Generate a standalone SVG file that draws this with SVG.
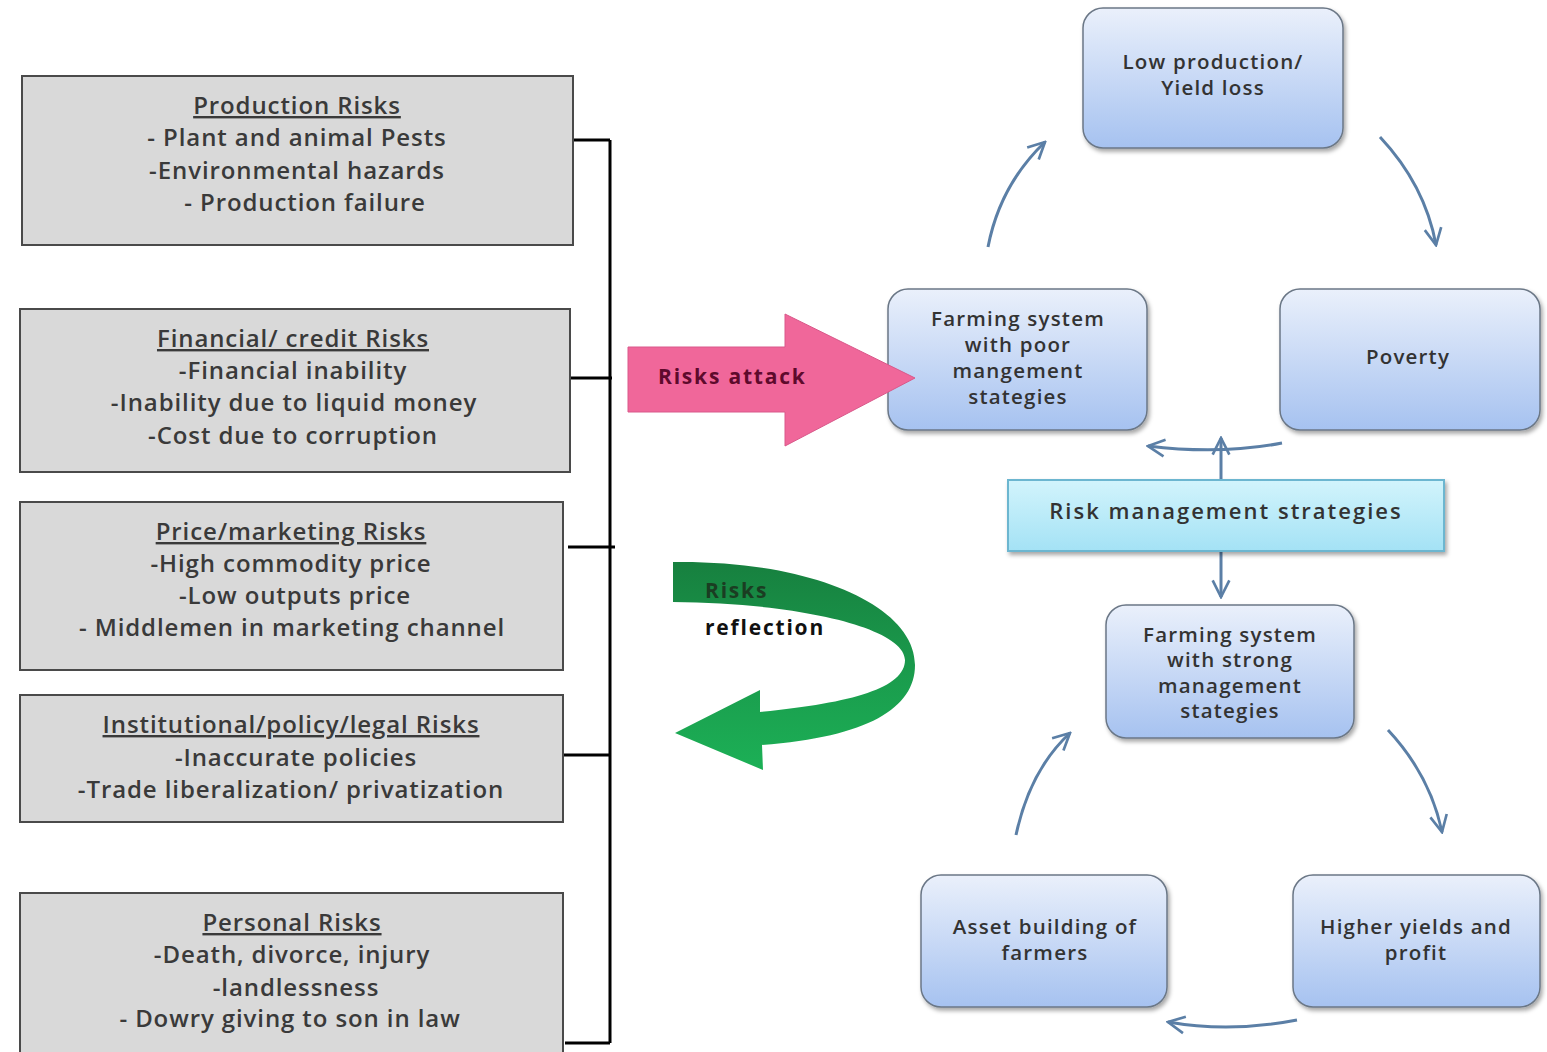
<svg xmlns="http://www.w3.org/2000/svg" width="1547" height="1052" viewBox="0 0 1547 1052">
<defs>
<style>
.rbox{fill:#d9d9d9;stroke:#4a4a4a;stroke-width:2}
.lt{font-family:"Open Sans","Liberation Sans",sans-serif;font-size:24px;font-weight:600;letter-spacing:0.9px;fill:#3a3a3a;text-anchor:middle}
.ttl{text-decoration:underline}
.node{fill:url(#ng);stroke:#6b7786;stroke-width:1.5;filter:url(#sh)}
.nt{font-family:"Open Sans","Liberation Sans",sans-serif;font-size:20.5px;font-weight:600;letter-spacing:1.2px;fill:#333;text-anchor:middle}
.conn{fill:none;stroke:#000;stroke-width:3}
.ca{fill:none;stroke:#5b7fa6;stroke-width:3;marker-end:url(#ah)}
.bt{font-family:"Open Sans","Liberation Sans",sans-serif;font-size:21px;font-weight:bold;letter-spacing:1.8px}
</style>
<linearGradient id="ng" x1="0" y1="0" x2="0" y2="1">
<stop offset="0" stop-color="#eaf0fb"/>
<stop offset="1" stop-color="#a6c2f0"/>
</linearGradient>
<linearGradient id="cg" x1="0" y1="0" x2="0" y2="1">
<stop offset="0" stop-color="#d2f4fc"/>
<stop offset="1" stop-color="#a4e2f5"/>
</linearGradient>
<linearGradient id="gg" x1="0" y1="562" x2="0" y2="770" gradientUnits="userSpaceOnUse">
<stop offset="0" stop-color="#17803f"/>
<stop offset="0.5" stop-color="#1a9a4c"/>
<stop offset="1" stop-color="#1cb056"/>
</linearGradient>
<filter id="sh" x="-10%" y="-10%" width="125%" height="125%">
<feDropShadow dx="2" dy="3" stdDeviation="2" flood-color="#000" flood-opacity="0.35"/>
</filter>
<marker id="ah" viewBox="0 0 12 12" refX="11" refY="6" markerWidth="20" markerHeight="20" markerUnits="userSpaceOnUse" orient="auto">
<path d="M1,1 L11,6 L1,11" fill="none" stroke="#5b7fa6" stroke-width="1.6"/>
</marker>
</defs>
<rect width="1547" height="1052" fill="#fff"/>

<g id="connectors">
<path class="conn" d="M610,140 V1043"/>
<path class="conn" d="M567,140 H610"/>
<path class="conn" d="M567,378 H612" stroke-width="4"/>
<path class="conn" d="M568,547 H615" stroke-width="4"/>
<path class="conn" d="M563,755 H610"/>
<path class="conn" d="M565,1043 H610"/>
<path class="ca" d="M988,247 Q1000,185 1045,142"/>
<path class="ca" d="M1380,137 Q1425,185 1436,245"/>
<path class="ca" d="M1282,443 Q1220,455 1148,446"/>
<path class="ca" d="M1221,480 V438"/>
<path class="ca" d="M1221,551 V597"/>
<path class="ca" d="M1016,835 Q1030,770 1070,733"/>
<path class="ca" d="M1388,730 Q1430,775 1442,832"/>
<path class="ca" d="M1297,1020 Q1230,1033 1168,1022"/>
</g>

<g id="production">
<rect class="rbox" x="22" y="76" width="551" height="169"/>
<text class="lt ttl" x="297" y="114">Production Risks</text>
<text class="lt" x="297" y="146">- Plant and animal Pests</text>
<text class="lt" x="297" y="179">-Environmental hazards</text>
<text class="lt" x="305" y="211">- Production failure</text>
</g>

<g id="financial">
<rect class="rbox" x="20" y="309" width="550" height="163"/>
<text class="lt ttl" x="293" y="347">Financial/ credit Risks</text>
<text class="lt" x="293" y="379">-Financial inability</text>
<text class="lt" x="294" y="411">-Inability due to liquid money</text>
<text class="lt" x="293" y="444">-Cost due to corruption</text>
</g>

<g id="price">
<rect class="rbox" x="20" y="502" width="543" height="168"/>
<text class="lt ttl" x="291" y="540">Price/marketing Risks</text>
<text class="lt" x="291" y="572">-High commodity price</text>
<text class="lt" x="295" y="604">-Low outputs price</text>
<text class="lt" x="292" y="636">- Middlemen in marketing channel</text>
</g>

<g id="institutional">
<rect class="rbox" x="20" y="695" width="543" height="127"/>
<text class="lt ttl" x="291" y="733">Institutional/policy/legal Risks</text>
<text class="lt" x="296" y="766">-Inaccurate policies</text>
<text class="lt" x="291" y="798">-Trade liberalization/ privatization</text>
</g>

<g id="personal">
<rect class="rbox" x="20" y="893" width="543" height="170"/>
<text class="lt ttl" x="292" y="931">Personal Risks</text>
<text class="lt" x="292" y="963">-Death, divorce, injury</text>
<text class="lt" x="296" y="996">-landlessness</text>
<text class="lt" x="290" y="1027">- Dowry giving to son in law</text>
</g>

<g id="risks-reflection">
<path d="M673,562 C810,560 915,605 915,665 C915,708 868,737 762,745 L763,770 L675,733 L760,690 L760,712 C852,703 905,688 905,660 C905,628 800,603 673,602 Z" fill="url(#gg)"/>
<text class="bt" x="705" y="598" fill="#1b3d22">Risks</text>
<text class="bt" x="705" y="635" fill="#111">reflection</text>
</g>

<g id="low-production">
<rect class="node" x="1083" y="8" width="260" height="140" rx="20"/>
<text class="nt" x="1213" y="69">Low production/</text>
<text class="nt" x="1213" y="95">Yield loss</text>
</g>

<g id="farming-poor">
<rect class="node" x="888" y="289" width="259" height="141" rx="20"/>
<text class="nt" x="1018" y="326">Farming system</text>
<text class="nt" x="1018" y="352">with poor</text>
<text class="nt" x="1018" y="378">mangement</text>
<text class="nt" x="1018" y="404">stategies</text>
</g>

<g id="risks-attack">
<path d="M628,347 H785 V314 L915,378 L785,446 V412 H628 Z" fill="#f0679a" stroke="#d9588a" stroke-width="1"/>
<text class="bt" x="658" y="384" fill="#5e0a2c">Risks attack</text>
</g>

<g id="poverty">
<rect class="node" x="1280" y="289" width="260" height="141" rx="20"/>
<text class="nt" x="1408" y="364">Poverty</text>
</g>

<g id="risk-management">
<rect x="1008" y="480" width="436" height="71" fill="url(#cg)" stroke="#6cb6d0" stroke-width="2" filter="url(#sh)"/>
<text x="1226" y="519" font-family="Open Sans,Liberation Sans,sans-serif" font-size="22" font-weight="600" letter-spacing="2" fill="#333" text-anchor="middle">Risk management strategies</text>
</g>

<g id="farming-strong">
<rect class="node" x="1106" y="605" width="248" height="133" rx="20"/>
<text class="nt" x="1230" y="642">Farming system</text>
<text class="nt" x="1230" y="667">with strong</text>
<text class="nt" x="1230" y="693">management</text>
<text class="nt" x="1230" y="718">stategies</text>
</g>

<g id="asset-building">
<rect class="node" x="921" y="875" width="246" height="132" rx="20"/>
<text class="nt" x="1045" y="934">Asset building of</text>
<text class="nt" x="1045" y="960">farmers</text>
</g>

<g id="higher-yields">
<rect class="node" x="1293" y="875" width="247" height="132" rx="20"/>
<text class="nt" x="1416" y="934">Higher yields and</text>
<text class="nt" x="1416" y="960">profit</text>
</g>
</svg>
